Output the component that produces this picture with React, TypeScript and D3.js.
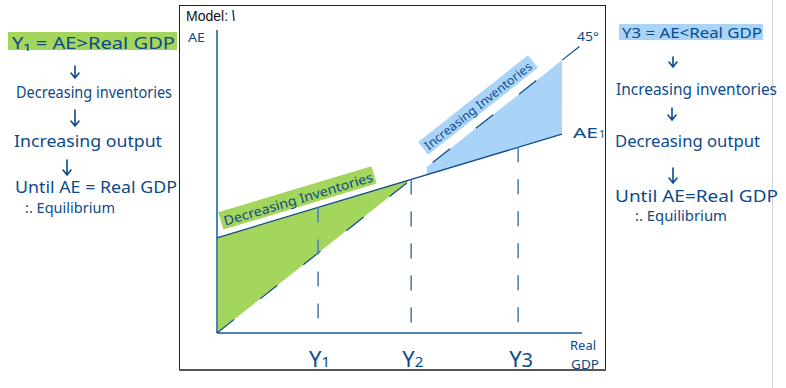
import * as d3 from 'd3'

// AE model values (data units: Real GDP 0..100, AE 0..105)
const aeIntercept = 33
const aeSlope = 0.38
const aeEnd = 94.5
const line45End = 99.5
const levels = [
  { name: 'Y', sub: '1', gdp: 27.7 },
  { name: 'Y', sub: '2', gdp: 53.2 },
  { name: 'Y', sub: '3', gdp: 82.5 },
]
const greenRange = [0, 52.3]
const blueRange = [57.5, 94.5]

const leftNotes = ['Y\u2081 = AE>Real GDP', 'Decreasing inventories', 'Increasing output', 'Until  AE = Real GDP', ':. Equilibrium']
const rightNotes = ['Y3 = AE<Real GDP', 'Increasing inventories', 'Decreasing output', 'Until  AE=Real GDP', ':. Equilibrium']

const INK = '#0d4a8a'
const AXIS = '#4f82b6'
const GREEN = '#a4d55c'
const BLUE = '#a9d4f8'
const FONT = "'Noto Sans', sans-serif"

const ae = (x: number) => aeIntercept + aeSlope * x

const Arrow = ({ x, y1, y2 }: { x: number; y1: number; y2: number }) => (
  <path
    d={`M${x},${y1}L${x},${y2}M${x - 4},${y2 - 5}L${x},${y2}L${x + 4},${y2 - 5}`}
    stroke={INK}
    strokeWidth={1.6}
    fill="none"
    strokeLinecap="round"
  />
)

const Note = ({ x, y, w, t, size = 16 }: { x: number; y: number; w: number; t: string; size?: number }) => (
  <text x={x} y={y} fontSize={size} fill={INK} fontFamily={FONT} textLength={w} lengthAdjust="spacingAndGlyphs">
    {t}
  </text>
)

const App = () => {
  const xs = d3.scaleLinear().domain([0, 100]).range([217, 582])
  const ys = d3.scaleLinear().domain([0, 105]).range([333, 30])

  const line = d3
    .line<number[]>()
    .x((d) => xs(d[0]))
    .y((d) => ys(d[1]))

  // area between AE1 (top) and the 45 degree line (bottom)
  const band = (r: number[]) => {
    const top = [r[0], r[1]].map((x) => [x, ae(x)])
    const bottom = [r[1], r[0]].map((x) => [x, x])
    return line([...top, ...bottom]) + 'Z'
  }

  const angleOf = (f: (x: number) => number) =>
    (Math.atan2(ys(f(100)) - ys(f(0)), xs(100) - xs(0)) * 180) / Math.PI
  const aeAngle = angleOf(ae)
  const angle45 = angleOf((x) => x)

  // offset a point perpendicular to a line (upwards)
  const offsetPt = (x: number, y: number, ang: number, d: number) => {
    const a = (ang * Math.PI) / 180
    return [xs(x) + Math.sin(a) * d, ys(y) - Math.cos(a) * d]
  }
  const gPos = offsetPt(3, ae(3), aeAngle, 9)
  const bPos = offsetPt(60, 60, angle45, 12)

  return (
    <svg width={786} height={388} style={{ position: 'absolute', left: 0, top: 0, background: '#fff' }}>
      <line x1={772.5} y1={0} x2={772.5} y2={388} stroke="#d2d2d2" />

      {/* left notes */}
      <rect x={8} y={32} width={169} height={18} fill={GREEN} />
      <Note x={12} y={49} w={163} t={leftNotes[0]} />
      <Arrow x={75} y1={66} y2={78} />
      <Note x={16} y={98} w={156} t={leftNotes[1]} />
      <Arrow x={75} y1={110} y2={126} />
      <Note x={14} y={147} w={148} t={leftNotes[2]} />
      <Arrow x={67} y1={160} y2={175} />
      <Note x={15} y={193} w={162} t={leftNotes[3]} />
      <Note x={25} y={213} w={90} t={leftNotes[4]} size={14} />

      {/* right notes */}
      <rect x={619} y={24} width={144} height={16} fill={BLUE} />
      <Note x={622} y={38} w={140} t={rightNotes[0]} size={15} />
      <Arrow x={673} y1={57} y2={67} />
      <Note x={616} y={95} w={161} t={rightNotes[1]} />
      <Arrow x={672} y1={108} y2={120} />
      <Note x={615} y={147} w={145} t={rightNotes[2]} />
      <Arrow x={673} y1={168} y2={183} />
      <Note x={615} y={202} w={163} t={rightNotes[3]} />
      <Note x={635} y={221} w={92} t={rightNotes[4]} size={14} />

      {/* chart frame */}
      <rect x={179.5} y={5.5} width={426} height={364} fill="none" stroke="#222" />
      <line x1={179} y1={370} x2={606} y2={370} stroke="#555" strokeWidth={2} />
      <text x={186} y={21} fontSize={14} fontFamily="'Liberation Sans', Arial, sans-serif" fill="#111">
        Model:
      </text>
      <path d="M233,10L234,21" stroke={INK} strokeWidth={1.5} />

      {/* filled gaps */}
      <path d={band(greenRange)} fill={GREEN} />
      <path d={band(blueRange)} fill={BLUE} />

      {/* inline labels */}
      <g transform={`translate(${gPos[0]},${gPos[1]}) rotate(${aeAngle})`}>
        <rect x={-3} y={-15} width={160} height={18} fill={GREEN} />
        <text x={0} y={0} fontSize={13} fill={INK} fontFamily={FONT} textLength={155} lengthAdjust="spacingAndGlyphs">
          Decreasing  Inventories
        </text>
      </g>
      <g transform={`translate(${bPos[0]},${bPos[1]}) rotate(${angle45})`}>
        <rect x={-3} y={-13} width={140} height={16} fill={BLUE} />
        <text x={0} y={0} fontSize={12} fill={INK} fontFamily={FONT} textLength={133} lengthAdjust="spacingAndGlyphs">
          Increasing  Inventories
        </text>
      </g>

      {/* axes */}
      <line x1={xs(0)} y1={ys(0)} x2={xs(0)} y2={ys(105)} stroke={AXIS} strokeWidth={2} />
      <line x1={xs(0)} y1={ys(0)} x2={xs(100)} y2={ys(0)} stroke={AXIS} strokeWidth={2} />

      {/* 45 degree line */}
      <path
        d={line([
          [0, 0],
          [line45End, line45End],
        ]) ?? ''}
        stroke={INK}
        strokeWidth={1.2}
        strokeDasharray="22,33"
        fill="none"
      />
      {/* AE1 */}
      <path
        d={line([
          [0, ae(0)],
          [aeEnd, ae(aeEnd)],
        ]) ?? ''}
        stroke={INK}
        strokeWidth={1.3}
        fill="none"
      />

      {/* dashed drop lines and labels */}
      {levels.map((l) => (
        <g key={l.sub}>
          <line
            x1={xs(l.gdp)}
            y1={ys(ae(l.gdp))}
            x2={xs(l.gdp)}
            y2={ys(0)}
            stroke={AXIS}
            strokeWidth={1.6}
            strokeDasharray="15,17"
          />
          <text x={xs(l.gdp) - 9} y={367} fontSize={22} fill={INK} fontFamily={FONT}>
            {l.name}
            <tspan fontSize={l.sub === '3' ? 20 : 15}>{l.sub}</tspan>
          </text>
        </g>
      ))}

      {/* axis and line labels */}
      <Note x={188} y={42} w={17} t="AE" size={12} />
      <Note x={577} y={41} w={22} t="45°" size={13} />
      <Note x={573} y={138} w={25} t="AE" size={14} />
      <text x={599} y={138} fontSize={11} fill={INK} fontFamily={FONT}>
        1
      </text>
      <Note x={570} y={350} w={26} t="Real" size={12} />
      <Note x={571} y={369} w={28} t="GDP" size={12} />
    </svg>
  )
}

export default App
